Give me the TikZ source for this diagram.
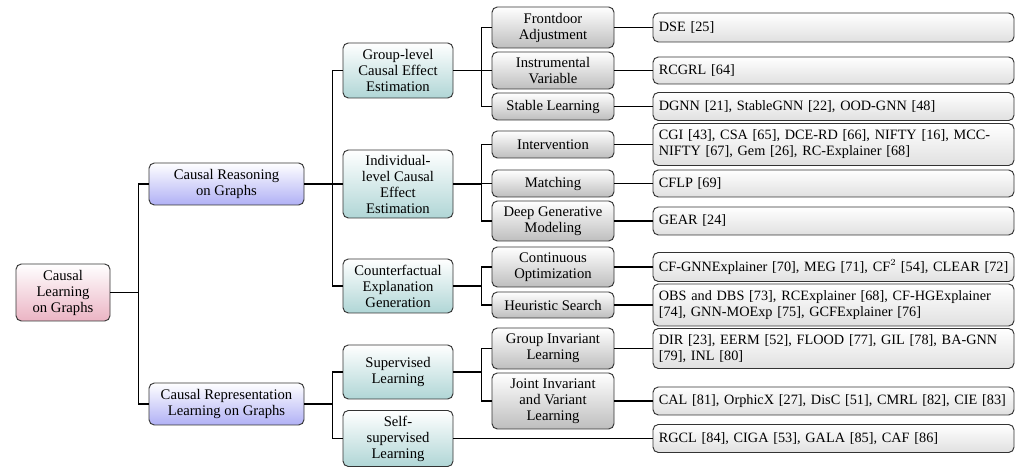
\documentclass[tikz,border=0pt]{standalone}
\usepackage{fontspec}
\setmainfont{Liberation Serif}
\definecolor{rootc}{RGB}{235,180,196}
\definecolor{lonec}{RGB}{176,176,245}
\definecolor{ltwoc}{RGB}{176,214,214}
\definecolor{lthreec}{RGB}{190,190,190}
\definecolor{lfourc}{RGB}{224,224,224}
\tikzset{
  basebox/.style={draw=black!80, line width=0.7pt, rounded corners=4pt, align=center,
    inner sep=1pt, font=\fontsize{11}{12}\selectfont},
  rootbox/.style={basebox, top color=white, bottom color=rootc, minimum width=70.5pt},
  onebox/.style={basebox, top color=white, bottom color=lonec, minimum width=116.25pt, minimum height=31.5pt},
  twobox/.style={basebox, top color=white, bottom color=ltwoc, minimum width=82.5pt},
  threebox/.style={basebox, top color=white, bottom color=lthreec, minimum width=91.5pt},
  leafbox/.style={basebox, top color=white, bottom color=lfourc, minimum width=270.75pt,
    text width=262pt, align=left, inner xsep=4pt, font=\fontsize{10.7}{12}\selectfont},
  conn/.style={line width=1.1pt, draw=black},
}
\begin{document}
\begin{tikzpicture}[x=0.75pt,y=-0.75pt]
\useasboundingbox (0,0) rectangle (1035,473);
% root
\node[rootbox, minimum height=42.75pt] (root) at (63,292.5) {Causal\\Learning\\on Graphs};
% level 1
\node[onebox] (cr) at (226.5,184) {Causal Reasoning\\on Graphs};
\node[onebox] (crl) at (226.5,404) {Causal Representation\\Learning on Graphs};
% level 2
\node[twobox, minimum height=41.25pt] (gl) at (398,70.5) {Group-level\\Causal Effect\\Estimation};
\node[twobox, minimum height=51pt] (il) at (398,184) {Individual-\\level Causal\\Effect\\Estimation};
\node[twobox, minimum height=40.5pt] (ce) at (398,286) {Counterfactual\\Explanation\\Generation};
\node[twobox, minimum height=40.5pt] (sl) at (398,372) {Supervised\\Learning};
\node[twobox, minimum height=42pt] (ss) at (398,438.5) {Self-\\supervised\\Learning};
% level 3
\node[threebox, minimum height=30.75pt] (fa) at (553,27.5) {Frontdoor\\Adjustment};
\node[threebox, minimum height=27.75pt] (iv) at (553,70.5) {Instrumental\\Variable};
\node[threebox, minimum height=20.25pt] (st) at (553,106.5) {Stable Learning};
\node[threebox, minimum height=20.25pt] (in) at (553,144.5) {Intervention};
\node[threebox, minimum height=20.25pt] (ma) at (553,183.5) {Matching};
\node[threebox, minimum height=30pt] (dg) at (553,221) {Deep Generative\\Modeling};
\node[threebox, minimum height=30pt] (co) at (553,267) {Continuous\\Optimization};
\node[threebox, minimum height=19.5pt] (hs) at (553,305) {Heuristic Search};
\node[threebox, minimum height=30.75pt] (gi) at (553,348.5) {Group Invariant\\Learning};
\node[threebox, minimum height=42pt] (ji) at (553,401) {Joint Invariant\\and Variant\\Learning};
% leaves
\node[leafbox, minimum height=21.75pt] (f1) at (833.5,27.5) {DSE [25]};
\node[leafbox, minimum height=20.25pt] (f2) at (833.5,70.5) {RCGRL [64]};
\node[leafbox, minimum height=21pt] (f3) at (833.5,106.5) {DGNN [21], StableGNN [22], OOD-GNN [48]};
\node[leafbox, minimum height=31.5pt] (f4) at (833.5,144.5) {CGI [43], CSA [65], DCE-RD [66], NIFTY [16], MCC-\\NIFTY [67], Gem [26], RC-Explainer [68]};
\node[leafbox, minimum height=20.25pt] (f5) at (833.5,183.5) {CFLP [69]};
\node[leafbox, minimum height=21pt] (f6) at (833.5,221) {GEAR [24]};
\node[leafbox, minimum height=21.75pt] (f7) at (833.5,267) {\mbox{CF-GNNExplainer [70], MEG [71], CF$^2$ [54], CLEAR [72]}};
\node[leafbox, minimum height=31.5pt] (f8) at (833.5,305) {OBS and DBS [73], RCExplainer [68], CF-HGExplainer\\{[74], GNN-MOExp [75], GCFExplainer [76]}};
\node[leafbox, minimum height=30pt] (f9) at (833.5,348.5) {DIR [23], EERM [52], FLOOD [77], GIL [78], BA-GNN\\{[79], INL [80]}};
\node[leafbox, minimum height=21pt] (f10) at (833.5,401) {CAL [81], OrphicX [27], DisC [51], CMRL [82], CIE [83]};
\node[leafbox, minimum height=21pt] (f11) at (833.5,438.5) {RGCL [84], CIGA [53], GALA [85], CAF [86]};
% connectors
\foreach \p/\c in {root/cr, root/crl, cr/gl, cr/il, cr/ce, crl/sl, crl/ss,
  gl/fa, gl/iv, gl/st, il/in, il/ma, il/dg, ce/co, ce/hs, sl/gi, sl/ji}
  \draw[conn] (\p.east) -- ++(28,0) |- (\c.west);
\foreach \p/\c in {fa/f1, iv/f2, st/f3, in/f4, ma/f5, dg/f6, co/f7, hs/f8, gi/f9, ji/f10}
  \draw[conn] (\p.east) -- (\c.west);
\draw[conn] (ss.east) -- (f11.west);
\end{tikzpicture}
\end{document}
